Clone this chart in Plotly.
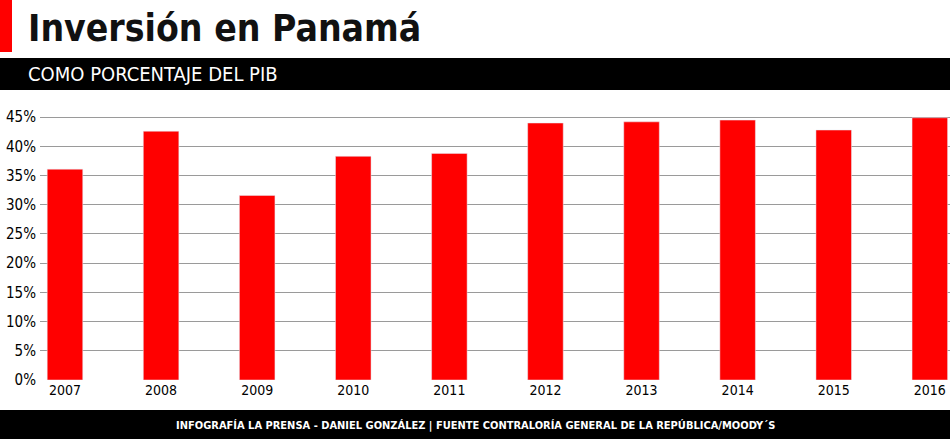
import plotly.graph_objects as go

anios = ['2007', '2008', '2009', '2010', '2011', '2012', '2013', '2014', '2015', '2016']
inversion_pct = [36.1, 42.6, 31.6, 38.3, 38.8, 44.0, 44.2, 44.5, 42.8, 44.9]
ticks_y = [0, 5, 10, 15, 20, 25, 30, 35, 40, 45]

fuente = "Liberation Sans Narrow, Arial Narrow, DejaVu Sans Condensed, sans-serif"

fig = go.Figure(go.Bar(
    x=list(range(len(anios))), y=inversion_pct,
    marker_color='#ff0000', width=0.37,
))

fig.update_layout(
    width=950, height=439,
    margin=dict(l=40, r=0, t=116, b=59),
    paper_bgcolor='white', plot_bgcolor='white',
    showlegend=False,
    font=dict(family=fuente, color='black', size=15),
    xaxis=dict(range=[-0.26, 9.21], tickvals=list(range(len(anios))), ticktext=anios,
               showgrid=False, zeroline=False, showline=False, ticks='',
               tickfont=dict(size=14)),
    yaxis=dict(range=[0, 45.2], tickvals=ticks_y, ticktext=[f'{v}%' for v in ticks_y],
               showgrid=True, gridcolor='#9a9a9a', gridwidth=1, zeroline=False,
               ticks='', ticklabelstandoff=3, tickfont=dict(size=15)),
    shapes=[
        dict(type='rect', xref='paper', yref='paper', x0=-40/910, x1=1,
             y0=1 + (116 - 58) / 264, y1=1 + (116 - 90) / 264,
             fillcolor='black', line=dict(width=0)),
        dict(type='rect', xref='paper', yref='paper', x0=-40/910, x1=1,
             y0=-(410 - 380) / 264, y1=-(439 - 380) / 264,
             fillcolor='black', line=dict(width=0)),
        dict(type='rect', xref='paper', yref='paper', x0=-40/910, x1=-28/910,
             y0=1 + (116 - 0) / 264, y1=1 + (116 - 52) / 264,
             fillcolor='#ff0000', line=dict(width=0)),
    ],
    annotations=[
        dict(text='<b>Inversión en Panamá</b>', xref='paper', yref='paper',
             x=-14/910, y=1 + (116 - 28) / 264, xanchor='left', yanchor='middle',
             showarrow=False, font=dict(size=37, color='#111')),
        dict(text='COMO PORCENTAJE DEL PIB', xref='paper', yref='paper',
             x=-14/910, y=1 + (116 - 74) / 264, xanchor='left', yanchor='middle',
             showarrow=False, font=dict(size=20, color='white')),
        dict(text='<b>INFOGRAFÍA LA PRENSA - DANIEL GONZÁLEZ | FUENTE CONTRALORÍA GENERAL DE LA REPÚBLICA/MOODY´S</b>',
             xref='paper', yref='paper', x=(475 - 40) / 910, y=-(425 - 380) / 264,
             xanchor='center', yanchor='middle', showarrow=False,
             font=dict(size=11, color='white')),
    ],
)

fig.write_html("out.html", config={'displayModeBar': False},
               post_script="document.body.style.margin='0';")
